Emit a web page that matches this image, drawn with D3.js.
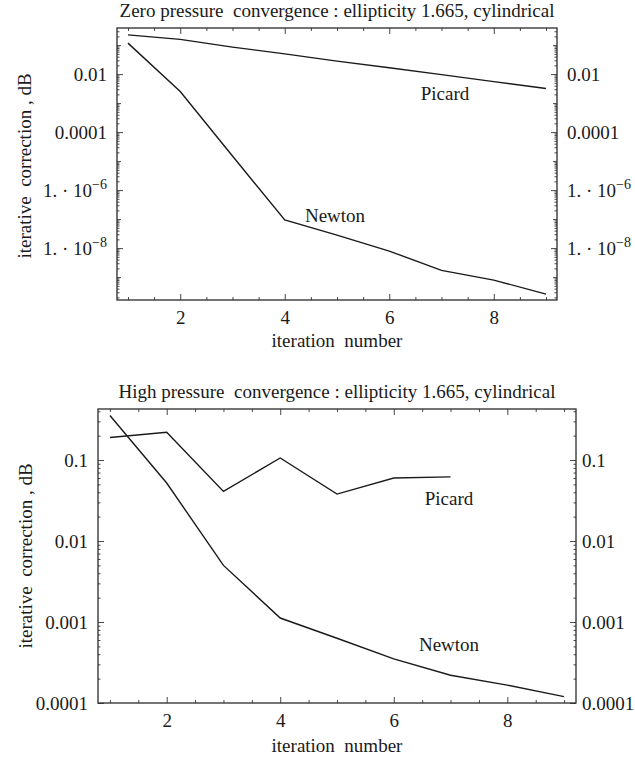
<!DOCTYPE html>
<html>
<head>
<meta charset="utf-8">
<script src="https://cdn.jsdelivr.net/npm/d3@7"></script>
<style>
  body { margin: 0; background: #fff; }
  svg text { font-family: "Liberation Serif", "DejaVu Serif", serif; fill: #1a1a1a; white-space: pre; }
</style>
</head>
<body>
<svg id="chart" width="635" height="759"></svg>
<script>
// iteration numbers
const iterations = [1, 2, 3, 4, 5, 6, 7, 8, 9];
const xTickValues = [2, 4, 6, 8];

// zero pressure panel
const zeroPicard = [0.226, 0.158, 0.085, 0.050, 0.028, 0.0166, 0.0096, 0.0055, 0.0032];
const zeroNewton = [0.117, 2.5e-3, 1.5e-5, 9.3e-8, 2.8e-8, 7.9e-9, 1.7e-9, 7.9e-10, 2.6e-10];
const zeroTicks = [1e-2, 1e-4, 1e-6, 1e-8];
const zeroTickLabels = ['0.01', '0.0001', '1. · 10|−6', '1. · 10|−8'];

// high pressure panel (Picard stops after 7 iterations)
const highPicard = [0.19, 0.22, 0.041, 0.106, 0.038, 0.060, 0.062];
const highNewton = [0.355, 0.052, 0.0050, 0.00112, 0.00063, 0.00035, 0.00022, 0.000166, 0.00012];
const highTicks = [0.1, 0.01, 0.001, 0.0001];
const highTickLabels = ['0.1', '0.01', '0.001', '0.0001'];

const FS = '19px';
const svg = d3.select('#chart');

function drawPanel(cfg) {
    const w = cfg.right - cfg.left;
    const h = cfg.bottom - cfg.top;

    const x = d3.scaleLinear().domain([0.79, 9.21]).range([0, w]);
    const y = d3.scaleLog().domain(cfg.yDomain).range([h, 0]);

    const g = svg.append('g').attr('transform', `translate(${cfg.left},${cfg.top})`);

    // title
    svg.append('text')
        .attr('x', (cfg.left + cfg.right) / 2)
        .attr('y', cfg.titleY)
        .attr('text-anchor', 'middle')
        .style('font-size', FS)
        .text(cfg.title);

    // x axis minor ticks (every 0.5), bottom and top
    const xMinor = d3.range(1, 9.01, 0.5).filter(v => !xTickValues.includes(v));
    g.append('g').attr('transform', `translate(0,${h})`)
        .call(d3.axisBottom(x).tickValues(xMinor).tickSize(-3).tickFormat(''));
    g.append('g')
        .call(d3.axisTop(x).tickValues(xMinor).tickSize(-3).tickFormat(''));

    // x axis major
    g.append('g').attr('transform', `translate(0,${h})`)
        .call(d3.axisBottom(x).tickValues(xTickValues).tickSize(-6).tickPadding(10))
        .call(a => a.selectAll('text').style('font-size', FS).attr('dy', '0.75em'));
    g.append('g')
        .call(d3.axisTop(x).tickValues(xTickValues).tickSize(-6).tickFormat(''));

    // y minor ticks: log subdivisions
    const lo = Math.floor(Math.log10(cfg.yDomain[0]));
    const hi = Math.ceil(Math.log10(cfg.yDomain[1]));
    const yMinor = [];
    const yMid = [];
    for (let e = lo; e <= hi; e++) {
        for (let k = 2; k <= 9; k++) {
            const v = k * Math.pow(10, e);
            if (v >= cfg.yDomain[0] && v <= cfg.yDomain[1]) yMinor.push(v);
        }
        const d = Math.pow(10, e);
        if (d >= cfg.yDomain[0] && d <= cfg.yDomain[1] &&
            !cfg.yTicks.some(t => Math.abs(Math.log10(t) - e) < 1e-6)) yMid.push(d);
    }
    g.append('g').call(d3.axisLeft(y).tickValues(yMinor).tickSize(-2.5).tickFormat(''));
    g.append('g').attr('transform', `translate(${w},0)`)
        .call(d3.axisRight(y).tickValues(yMinor).tickSize(-2.5).tickFormat(''));
    g.append('g').call(d3.axisLeft(y).tickValues(yMid).tickSize(-4).tickFormat(''));
    g.append('g').attr('transform', `translate(${w},0)`)
        .call(d3.axisRight(y).tickValues(yMid).tickSize(-4).tickFormat(''));

    // y major ticks with labels on both sides
    const fmt = v => cfg.yLabels[cfg.yTicks.indexOf(v)];
    const fixLabels = a => a.selectAll('text')
        .style('font-size', FS)
        .each(function () {
            const t = d3.select(this);
            const parts = t.text().split('|');
            if (parts.length === 2) {
                t.text(parts[0]);
                t.append('tspan').attr('dy', '-0.55em').style('font-size', '14px').text(parts[1]);
            }
        });
    g.append('g')
        .call(d3.axisLeft(y).tickValues(cfg.yTicks).tickSize(-6).tickPadding(10).tickFormat(fmt))
        .call(fixLabels);
    g.append('g').attr('transform', `translate(${w},0)`)
        .call(d3.axisRight(y).tickValues(cfg.yTicks).tickSize(-6).tickPadding(cfg.rightPad).tickFormat(fmt))
        .call(fixLabels);

    g.selectAll('.domain').remove();
    g.selectAll('.tick line').attr('stroke', '#333').attr('stroke-width', 0.9);

    // frame
    g.append('rect')
        .attr('width', w).attr('height', h)
        .attr('fill', 'none').attr('stroke', '#2a2a2a').attr('stroke-width', 1.3);

    // series
    const line = d3.line().x(d => x(d[0])).y(d => y(d[1]));
    cfg.series.forEach(s => {
        g.append('path')
            .datum(s.values.map((v, i) => [iterations[i], v]))
            .attr('fill', 'none')
            .attr('stroke', '#1a1a1a')
            .attr('stroke-width', 1.4)
            .attr('d', line);
        g.append('text')
            .attr('x', s.labelX - cfg.left)
            .attr('y', s.labelY - cfg.top)
            .attr('text-anchor', 'middle')
            .style('font-size', FS)
            .text(s.name);
    });

    // axis titles
    svg.append('text')
        .attr('x', (cfg.left + cfg.right) / 2)
        .attr('y', cfg.xLabelY)
        .attr('text-anchor', 'middle')
        .style('font-size', FS)
        .text('iteration  number');

    svg.append('text')
        .attr('transform', `translate(${cfg.yLabelX},${cfg.yLabelY}) rotate(-90)`)
        .attr('text-anchor', 'middle')
        .style('font-size', FS)
        .text('iterative  correction , dB');
}

drawPanel({
    left: 117, right: 557, top: 28, bottom: 300, rightPad: 10,
    yDomain: [Math.pow(10, -9.79), Math.pow(10, -0.41)],
    yTicks: zeroTicks, yLabels: zeroTickLabels,
    title: 'Zero pressure  convergence : ellipticity 1.665, cylindrical',
    titleY: 17, xLabelY: 347, yLabelX: 31, yLabelY: 166,
    series: [
        { name: 'Picard', values: zeroPicard, labelX: 445, labelY: 100 },
        { name: 'Newton', values: zeroNewton, labelX: 335, labelY: 222 }
    ]
});

drawPanel({
    left: 98, right: 576, top: 409, bottom: 703, rightPad: 6,
    yDomain: [1e-4, Math.pow(10, -0.37)],
    yTicks: highTicks, yLabels: highTickLabels,
    title: 'High pressure  convergence : ellipticity 1.665, cylindrical',
    titleY: 398, xLabelY: 752, yLabelX: 32, yLabelY: 556,
    series: [
        { name: 'Picard', values: highPicard, labelX: 449, labelY: 505 },
        { name: 'Newton', values: highNewton, labelX: 449, labelY: 651 }
    ]
});
</script>
</body>
</html>
